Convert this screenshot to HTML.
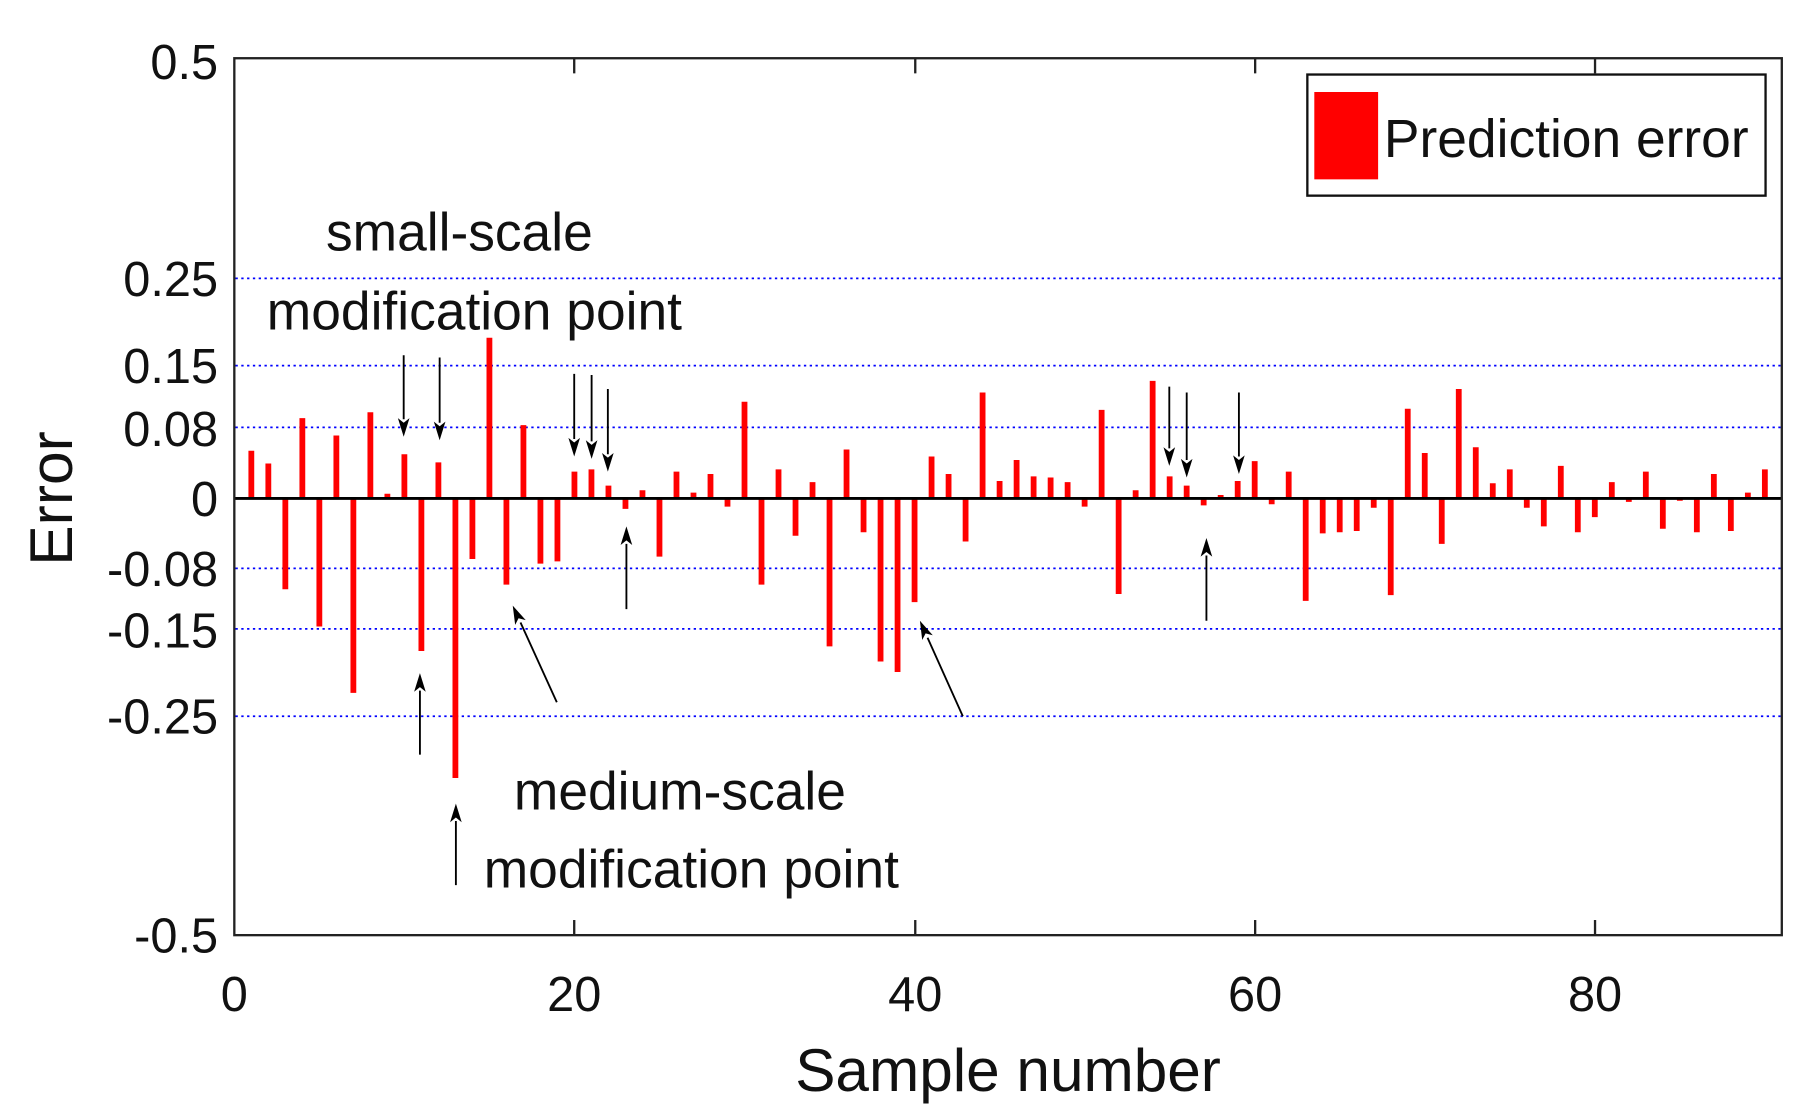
<!DOCTYPE html>
<html><head><style>html,body{margin:0;padding:0;background:#fff}svg{display:block}</style></head><body>
<svg width="1805" height="1118" viewBox="0 0 1556 960" preserveAspectRatio="none" xmlns="http://www.w3.org/2000/svg" font-family="Liberation Sans, Arial, sans-serif">
<rect width="1556" height="960" fill="#fff"/>
<g stroke="#0000ff" stroke-width="1.5" stroke-dasharray="2,3">
<line x1="203" x2="1536" y1="239" y2="239"/><line x1="203" x2="1536" y1="314" y2="314"/><line x1="203" x2="1536" y1="367" y2="367"/>
<line x1="203" x2="1536" y1="488" y2="488"/><line x1="203" x2="1536" y1="540" y2="540"/><line x1="203" x2="1536" y1="615" y2="615"/>
</g>
<path stroke="#ff0000" stroke-width="5" fill="none" d="M216.66 428V387M231.32 428V398M245.98 428V506M260.64 428V359M275.3 428V538M289.96 428V374M304.62 428V595M319.28 428V354M333.94 428V424M348.6 428V390M363.26 428V559M377.92 428V397M392.58 428V668M407.24 428V480M421.9 428V290M436.56 428V502M451.22 428V365M465.88 428V484M480.54 428V482M495.2 428V405M509.86 428V403M524.52 428V417M539.18 428V437M553.84 428V421M568.5 428V478M583.16 428V405M597.82 428V423M612.48 428V407M627.14 428V435M641.8 428V345M656.46 428V502M671.12 428V403M685.78 428V460M700.44 428V414M715.1 428V555M729.76 428V386M744.42 428V457M759.08 428V568M773.74 428V577M788.4 428V517M803.06 428V392M817.72 428V407M832.38 428V465M847.04 428V337M861.7 428V413M876.36 428V395M891.02 428V409M905.68 428V410M920.34 428V414M935 428V435M949.66 428V352M964.32 428V510M978.98 428V421M993.64 428V327M1008.3 428V409M1022.96 428V417M1037.62 428V434M1052.28 428V425M1066.94 428V413M1081.6 428V396M1096.26 428V433M1110.92 428V405M1125.58 428V516M1140.24 428V458M1154.9 428V457M1169.56 428V456M1184.22 428V436M1198.88 428V511M1213.54 428V351M1228.2 428V389M1242.86 428V467M1257.52 428V334M1272.18 428V384M1286.84 428V415M1301.5 428V403M1316.16 428V436M1330.82 428V452M1345.48 428V400M1360.14 428V457M1374.8 428V444M1389.46 428V414M1404.12 428V431M1418.78 428V405M1433.44 428V454M1448.1 428V430M1462.76 428V457M1477.42 428V407M1492.08 428V456M1506.74 428V423M1521.4 428V403"/>
<line x1="202" x2="1536" y1="428" y2="428" stroke="#000" stroke-width="2.5"/>
<rect x="202" y="50" width="1334" height="753" fill="none" stroke="#222" stroke-width="2"/>
<g stroke="#222" stroke-width="2">
<line x1="495" x2="495" y1="803" y2="790"/><line x1="789" x2="789" y1="803" y2="790"/><line x1="1082" x2="1082" y1="803" y2="790"/><line x1="1375" x2="1375" y1="803" y2="790"/>
<line x1="495" x2="495" y1="50" y2="63"/><line x1="789" x2="789" y1="50" y2="63"/><line x1="1082" x2="1082" y1="50" y2="63"/><line x1="1375" x2="1375" y1="50" y2="63"/>
</g>
<g font-size="42" fill="#111" text-anchor="end">
<text x="188" y="68">0.5</text><text x="188" y="254">0.25</text><text x="188" y="329">0.15</text><text x="188" y="383">0.08</text>
<text x="188" y="443">0</text><text x="188" y="503">-0.08</text><text x="188" y="556">-0.15</text><text x="188" y="630">-0.25</text><text x="188" y="818">-0.5</text>
</g>
<g font-size="42" fill="#111" text-anchor="middle">
<text x="202" y="868">0</text><text x="495" y="868">20</text><text x="789" y="868">40</text><text x="1082" y="868">60</text><text x="1375" y="868">80</text>
<text x="869" y="937" font-size="52">Sample number</text>
</g>
<text transform="translate(62,428) rotate(-90)" font-size="52" text-anchor="middle" fill="#111">Error</text>
<rect x="1127" y="64" width="395" height="104" fill="#fff" stroke="#111" stroke-width="2"/>
<rect x="1133" y="79" width="55" height="75" fill="#ff0000"/>
<text x="1193" y="135" font-size="46" fill="#111">Prediction error</text>
<g font-size="46" fill="#111">
<text x="281" y="215">small-scale</text><text x="230" y="283">modification point</text>
<text x="443" y="695">medium-scale</text><text x="417" y="762">modification point</text>
</g>
<g stroke="#000" stroke-width="1.6">
<line x1="348" y1="305" x2="348" y2="360"/><line x1="379" y1="307" x2="379" y2="363"/>
<line x1="495" y1="321" x2="495" y2="377"/><line x1="510" y1="322" x2="510" y2="379"/><line x1="524" y1="334" x2="524" y2="390"/>
<line x1="1008" y1="332" x2="1008" y2="385"/><line x1="1023" y1="337" x2="1023" y2="395"/><line x1="1068" y1="337" x2="1068" y2="392"/>
<line x1="540" y1="523" x2="540" y2="467"/><line x1="1040" y1="533" x2="1040" y2="477"/>
<line x1="362" y1="648" x2="362" y2="593"/><line x1="393" y1="760" x2="393" y2="705"/>
<line x1="480" y1="603" x2="448.7" y2="534.5"/><line x1="830" y1="615" x2="799.6" y2="547.6"/>
</g>
<g fill="#000">
<polygon points="348,375 343,359 348,363 353,359"/><polygon points="379,378 374,362 379,366 384,362"/>
<polygon points="495,392 490,376 495,380 500,376"/><polygon points="510,394 505,378 510,382 515,378"/><polygon points="524,405 519,389 524,393 529,389"/>
<polygon points="1008,400 1003,384 1008,388 1013,384"/><polygon points="1023,410 1018,394 1023,398 1028,394"/><polygon points="1068,407 1063,391 1068,395 1073,391"/>
<polygon points="540,452 535,468 540,464 545,468"/><polygon points="1040,462 1035,478 1040,474 1045,478"/>
<polygon points="362,578 357,594 362,590 367,594"/><polygon points="393,690 388,706 393,702 398,706"/>
<polygon points="442,520 453.2,532.5 447,530.9 444.1,536.6"/><polygon points="793,533 804.1,545.5 797.9,543.9 795,549.6"/>
</g>
</svg>
</body></html>
